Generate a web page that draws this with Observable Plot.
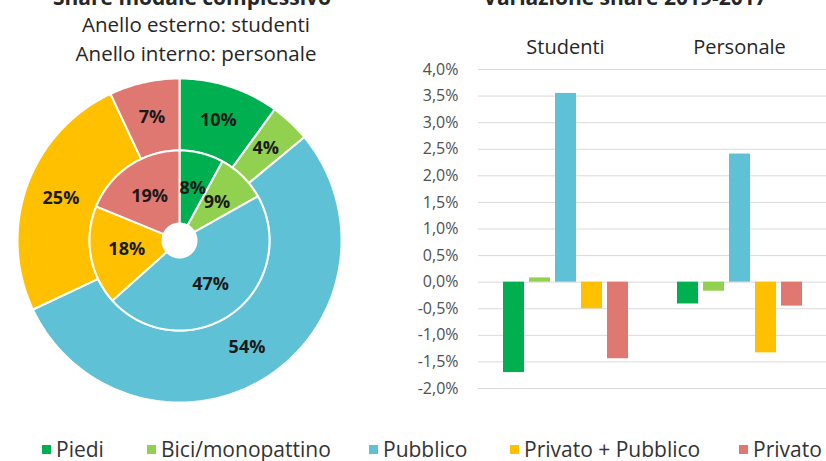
<!DOCTYPE html>
<html>
<head>
<meta charset="utf-8">
<script src="https://cdn.jsdelivr.net/npm/d3@7"></script>
<script src="https://cdn.jsdelivr.net/npm/@observablehq/plot@0.6"></script>
<style>
  html, body { margin: 0; padding: 0; background: #fff; }
  #root { position: relative; width: 826px; height: 461px; overflow: hidden; font-family: "Open Sans", sans-serif; color: #262626; }
  .abs { position: absolute; }
  .title { font-weight: bold; font-size: 21px; line-height: 21px; text-align: center; white-space: nowrap; }
  .sub { font-size: 20.5px; line-height: 29px; text-align: center; white-space: nowrap; }
  .item { position: absolute; display: flex; align-items: center; font-size: 21px; line-height: 24px; color: #333; white-space: nowrap; }
  .item .sw { width: 9px; height: 9px; margin-right: 5px; margin-top: 1px; }
</style>
</head>
<body>
<div id="root"></div>
<script>
// ---- data ----
const modes = ["Piedi", "Bici/monopattino", "Pubblico", "Privato + Pubblico", "Privato"];
const modeColors = ["#00b050", "#92d050", "#5ec1d6", "#ffc000", "#e07872"];
const studentShare = [10, 4, 54, 25, 7];   // outer ring
const staffShare = [8, 9, 47, 18, 19];     // inner ring
const groups = ["Studenti", "Personale"];
const studentChange = [-1.7, 0.08, 3.55, -0.5, -1.44];
const staffChange = [-0.41, -0.17, 2.41, -1.33, -0.45];
const yTicks = [-2, -1.5, -1, -0.5, 0, 0.5, 1, 1.5, 2, 2.5, 3, 3.5, 4];
const leftTitle = "Share modale complessivo";
const rightTitle = "Variazione share 2019-2017";
const subtitles = ["Anello esterno: studenti", "Anello interno: personale"];

const root = document.getElementById("root");
function addDiv(cls, style, html) {
  const d = document.createElement("div");
  d.className = cls;
  Object.assign(d.style, style);
  d.innerHTML = html;
  root.appendChild(d);
  return d;
}

// titles
addDiv("abs title", {left: "0px", top: "-13px", width: "384px"}, leftTitle);
addDiv("abs title", {left: "425px", top: "-13px", width: "400px"}, rightTitle);
addDiv("abs sub", {left: "0px", top: "10px", width: "392px"}, subtitles.join("<br>"));

// ---- pie (donut) ----
const R = 165;
const rings = [
  {name: "outer", values: studentShare, r0: 90, r1: 162},
  {name: "inner", values: staffShare, r0: 17, r1: 90}
];
const polys = [];
const labels = [];
rings.forEach(ring => {
  const arcs = d3.pie().sort(null)(ring.values);
  arcs.forEach((a, i) => {
    const id = ring.name + i;
    const n = Math.max(2, Math.ceil((a.endAngle - a.startAngle) / (Math.PI / 180)));
    const pts = [];
    for (let k = 0; k <= n; k++) {
      const t = a.startAngle + (a.endAngle - a.startAngle) * k / n;
      pts.push({id, mode: modes[i], x: ring.r1 * Math.sin(t), y: ring.r1 * Math.cos(t)});
    }
    for (let k = n; k >= 0; k--) {
      const t = a.startAngle + (a.endAngle - a.startAngle) * k / n;
      pts.push({id, mode: modes[i], x: ring.r0 * Math.sin(t), y: ring.r0 * Math.cos(t)});
    }
    pts.push({...pts[0]});
    polys.push(...pts);
    const mid = (a.startAngle + a.endAngle) / 2;
    const rm = (ring.r0 + ring.r1) / 2;
    labels.push({x: rm * Math.sin(mid), y: rm * Math.cos(mid), text: ring.values[i] + "%"});
  });
});

const pie = Plot.plot({
  width: 2 * R, height: 2 * R,
  margin: 0,
  x: {domain: [-R, R], axis: null},
  y: {domain: [-R, R], axis: null},
  color: {domain: modes, range: modeColors},
  style: {background: "transparent", overflow: "visible"},
  marks: [
    Plot.line(polys, {x: "x", y: "y", z: "id", fill: "mode", stroke: "white", strokeWidth: 2, curve: "linear", strokeLinejoin: "miter"}),
    Plot.text(labels, {x: "x", y: "y", text: "text", fontWeight: "bold", fontSize: 18, fill: "#1a1a1a", fontFamily: "Open Sans"})
  ]
});
pie.style.position = "absolute";
pie.style.left = (179 - R) + "px";
pie.style.top = (240 - R) + "px";
root.appendChild(pie);

// ---- grouped bars ----
const bars = [];
groups.forEach((g, gi) => {
  const vals = gi === 0 ? studentChange : staffChange;
  modes.forEach((m, i) => bars.push({group: g, mode: m, value: vals[i]}));
});

const fmt = d => d.toFixed(1).replace(".", ",") + "%";
const bar = Plot.plot({
  width: 426, height: 400,
  marginLeft: 77, marginRight: 0, marginTop: 69, marginBottom: 12,
  fx: {domain: groups, padding: 0, label: null},
  x: {domain: modes, paddingInner: 0.2, paddingOuter: 0.83, axis: null},
  y: {domain: [-2, 4], axis: null},
  color: {domain: modes, range: modeColors},
  style: {background: "transparent", fontFamily: "Open Sans", overflow: "visible"},
  marks: [
    Plot.gridY(yTicks, {stroke: "#d9d9d9", strokeOpacity: 1, strokeWidth: 1}),
    Plot.axisY(yTicks, {tickSize: 0, tickPadding: 20, tickFormat: fmt, fontSize: 16, fill: "#505050", label: null}),
    Plot.axisFx({anchor: "top", tickSize: 0, tickPadding: 16, fontSize: 20, fill: "#262626", label: null}),
    Plot.barY(bars, {fx: "group", x: "mode", y: "value", fill: "mode"})
  ]
});
bar.style.position = "absolute";
bar.style.left = "400px";
bar.style.top = "0px";
root.appendChild(bar);

// ---- legend ----
const legendX = [42, 147, 369, 510, 739];
modes.forEach((m, i) => {
  addDiv("item", {left: legendX[i] + "px", top: "437px"},
    `<span class="sw" style="background:${modeColors[i]}"></span><span>${m}</span>`);
});
</script>
</body>
</html>
